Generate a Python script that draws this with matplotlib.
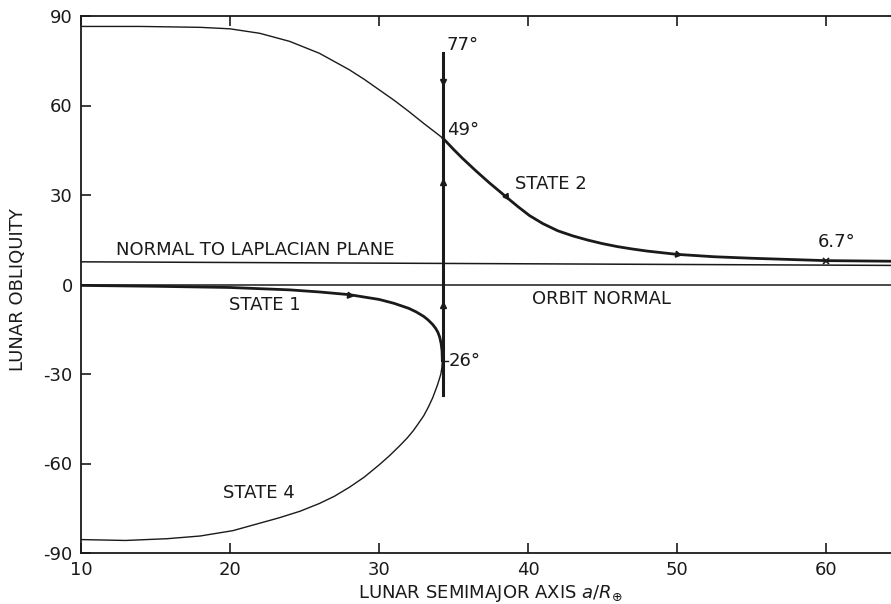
import matplotlib
matplotlib.use("Agg")
import matplotlib.pyplot as plt

plt.rcParams["axes.unicode_minus"] = False

# ---- data ----
# upper branch, thin part left of the vertical line
upper_thin_a = [10, 14, 18, 20, 22, 24, 26, 28, 29, 30, 31, 32, 33, 34.3]
upper_thin_o = [86.5, 86.5, 86.2, 85.7, 84.2, 81.5, 77.5, 72.0, 68.8, 65.3, 61.8, 58.0, 54.0, 49.0]
# thick part (state 2) right of the vertical line
upper_thick_a = [34.3, 35.0, 35.6, 36.5, 37.4, 38.5, 39.3, 40.1, 41.0, 42.0, 43.0, 44.0, 45.0,
                 46.0, 47.0, 48.0, 50.0, 52.5, 55.0, 60.0, 64.4]
upper_thick_o = [49.0, 45.3, 42.3, 38.1, 34.1, 29.5, 26.2, 23.1, 20.4, 18.0, 16.3, 14.9, 13.7,
                 12.7, 11.9, 11.2, 10.1, 9.3, 8.8, 8.0, 7.8]

# state 1 (thick), approaching the turning point
state1_a = [10, 15, 20, 24, 26, 28, 30, 31, 32, 32.5, 33.0, 33.3, 33.6, 33.8, 33.95, 34.07, 34.17, 34.23, 34.25]
state1_o = [-0.3, -0.6, -1.0, -1.8, -2.5, -3.4, -5.0, -6.3, -8.0, -9.2, -10.7, -11.9, -13.4, -14.7,
            -16.0, -17.6, -19.8, -22.3, -25.5]

# state 4 (thin), from the turning point back to the left edge
state4_a = [34.25, 34.22, 34.15, 34.03, 33.9, 33.6, 33.3, 33.0, 32.6, 32.3, 31.9, 31.4, 30.7, 30.0,
            29.0, 28.0, 27.0, 26.0, 24.7, 23.3, 22.0, 20.2, 18.0, 15.8, 13.0, 10.0]
state4_o = [-25.5, -27.8, -30.0, -32.0, -34.0, -38.0, -41.2, -44.0, -46.9, -49.0, -51.4, -54.0, -57.4,
            -60.5, -64.6, -68.0, -71.0, -73.4, -76.0, -78.2, -80.0, -82.5, -84.3, -85.2, -85.8, -85.5]

# reference lines
laplace_a = [10, 64.4]
laplace_o = [7.6, 6.4]
orbit_a = [10, 64.4]
orbit_o = [0.0, 0.0]

# vertical line at the critical semimajor axis
crit_a = 34.3
crit_range = [-37.0, 77.5]
crit_arrow_o = [68.0, 34.5, -7.0]
crit_arrow_m = ["v", "^", "^"]

# flow arrows on the curves (a, obliquity, marker rotation)
flow_a = [28.0, 38.5, 50.0]
flow_o = [-3.4, 29.5, 10.1]
flow_rot = [-100, -145, -100]

cross_a, cross_o = 60.0, 8.0

xticks = [10, 20, 30, 40, 50, 60]
yticks = [-90, -60, -30, 0, 30, 60, 90]

# ---- figure ----
fig = plt.figure(figsize=(8.91, 6.04), dpi=100)
ax = fig.add_axes([81/891, 1 - 553/604, 1 - 81/891, (553 - 16)/604])
ink = "#1a1a1a"
thin, thick = 1.0, 2.0

ax.plot(upper_thin_a, upper_thin_o, color=ink, lw=thin)
ax.plot(upper_thick_a, upper_thick_o, color=ink, lw=thick)
ax.plot(state1_a, state1_o, color=ink, lw=thick)
ax.plot(state4_a, state4_o, color=ink, lw=thin)
ax.plot(laplace_a, laplace_o, color=ink, lw=1.1)
ax.plot(orbit_a, orbit_o, color=ink, lw=1.1)
ax.plot([crit_a, crit_a], crit_range, color=ink, lw=2.2)
for o, m in zip(crit_arrow_o, crit_arrow_m):
    ax.plot(crit_a, o, marker=m, color=ink, ms=5)
for a, o, r in zip(flow_a, flow_o, flow_rot):
    ax.plot(a, o, marker=(3, 0, r), color=ink, ms=5)
ax.plot(cross_a, cross_o, marker="x", color=ink, ms=5, mew=1.2)
ax.plot([crit_a, crit_a + 0.35], [-25.5, -25.5], color=ink, lw=1.0)

fs = 13
ax.text(34.55, 80.2, "77°", fontsize=fs, va="center", ha="left", color=ink)
ax.text(34.55, 51.7, "49°", fontsize=fs, va="center", ha="left", color=ink)
ax.text(34.65, -25.5, "26°", fontsize=fs, va="center", ha="left", color=ink)
ax.text(39.1, 33.6, "STATE 2", fontsize=fs, va="center", ha="left", color=ink)
ax.text(60.7, 14.1, "6.7°", fontsize=fs, va="center", ha="center", color=ink)
ax.text(12.35, 11.4, "NORMAL TO LAPLACIAN PLANE", fontsize=fs, va="center", ha="left", color=ink)
ax.text(40.3, -4.7, "ORBIT NORMAL", fontsize=fs, va="center", ha="left", color=ink)
ax.text(19.9, -7.0, "STATE 1", fontsize=fs, va="center", ha="left", color=ink)
ax.text(19.5, -70.0, "STATE 4", fontsize=fs, va="center", ha="left", color=ink)

ax.set_xlim(10, 64.36)
ax.set_ylim(-90, 90)
ax.set_xticks(xticks)
ax.set_yticks(yticks)
ax.tick_params(axis="x", direction="in", length=7, width=1.2, top=True, labelsize=fs, colors=ink, pad=6)
ax.tick_params(axis="y", direction="in", length=7, width=1.2, labelsize=fs, colors=ink, pad=6)
for s in ["left", "top", "bottom"]:
    ax.spines[s].set_linewidth(1.3)
    ax.spines[s].set_color(ink)
ax.spines["right"].set_visible(False)

ax.set_ylabel("LUNAR OBLIQUITY", fontsize=fs, color=ink)
ax.yaxis.set_label_coords((18 - 81) / 810, (553 - 290) / 537)
ax.yaxis.label.set_va("center")
ax.set_xlabel(r"LUNAR SEMIMAJOR AXIS $a/R_{\oplus}$", fontsize=fs, color=ink)
ax.xaxis.set_label_coords((490 - 81) / 810, -0.056)
ax.xaxis.label.set_va("top")

fig.savefig("out.png", dpi=100, facecolor="white")
